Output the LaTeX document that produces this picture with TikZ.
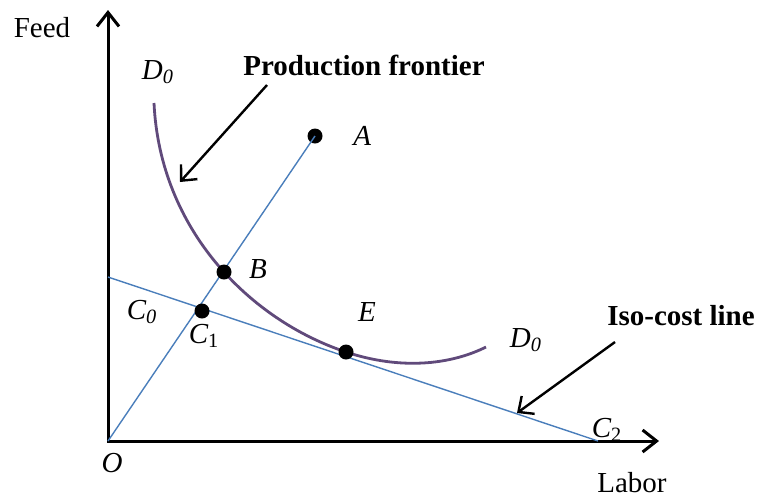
\documentclass[tikz,border=0pt]{standalone}
\usepackage{fontspec}
\setmainfont{Liberation Serif}
\usetikzlibrary{arrows.meta, positioning}
\definecolor{isoBlue}{HTML}{4A7EBB}
\definecolor{frontPurple}{HTML}{604A7B}

\begin{document}
\begin{tikzpicture}[x=0.5pt, y=-0.5pt,
  axis/.style={line width=1.5pt, {Straight Barb[length=7pt, width=11pt, line width=1.5pt]}-{Straight Barb[length=7pt, width=11pt, line width=1.5pt]}},
  ray/.style={isoBlue, line width=0.7pt},
  frontier/.style={frontPurple, line width=1.4pt},
  pt/.style={circle, fill=black, inner sep=0pt, minimum size=7.5pt},
  lbl/.style={font=\fontsize{14.5}{17}\selectfont\itshape, inner sep=1pt},
  title/.style={font=\fontsize{14.5}{17}\selectfont\bfseries, inner sep=1pt},
  pointer/.style={line width=1.2pt, -{Straight Barb[length=6pt, width=11pt, line width=1.2pt]}}
]
\useasboundingbox (0,0) rectangle (758,500);
% axes
\coordinate (O) at (108,441);
\coordinate (ytip) at (108,10);
\coordinate (xtip) at (659,441);
\draw[axis] (ytip) -- (O) -- (xtip);
\node[font=\fontsize{14.5}{17}\selectfont] (feed) at (42,28) {Feed};
\node[font=\fontsize{14.5}{17}\selectfont] (labor) at (632,483) {Labor};
\node[lbl] (olbl) at (112,463) {O};
% iso-cost line and ray
\coordinate (c0pt) at (108,277);
\coordinate (c2pt) at (598,441);
\draw[ray] (c0pt) -- (c2pt);
\node[pt] (A) at (315,136) {};
\draw[ray] (O) -- (A.center);
% production frontier
\draw[frontier] (154,103) .. controls (160,230) and (250,320) .. (346,352)
  .. controls (400,370) and (450,365) .. (486,347);
% points
\node[pt] (B) at (224,272) {};
\node[pt] (C1) at (202,311) {};
\node[pt] (E) at (346,352) {};
\node[lbl, right=14pt of A] (albl) {A};
\node[lbl] (blbl) at (258,269) {B};
\node[lbl] (c1lbl) at (204,336) {C\textsubscript{\upshape 1}};
\node[lbl] (c0lbl) at (142,312) {C\textsubscript{0}};
\node[lbl] (elbl) at (367,312) {E};
\node[lbl] (c2lbl) at (607,430) {C\textsubscript{\upshape 2}};
\node[lbl] (d0top) at (158,72) {D\textsubscript{0}};
\node[lbl] (d0right) at (526,340) {D\textsubscript{0}};
% annotations
\node[title] (prodlbl) at (364,65) {Production frontier};
\node[title] (isolbl) at (681,316) {Iso-cost line};
\coordinate (prodtip) at (180,182);
\coordinate (isotip) at (517,413);
\draw[pointer] (267,85) -- (prodtip);
\draw[pointer] (615,342) -- (isotip);
\end{tikzpicture}
\end{document}
